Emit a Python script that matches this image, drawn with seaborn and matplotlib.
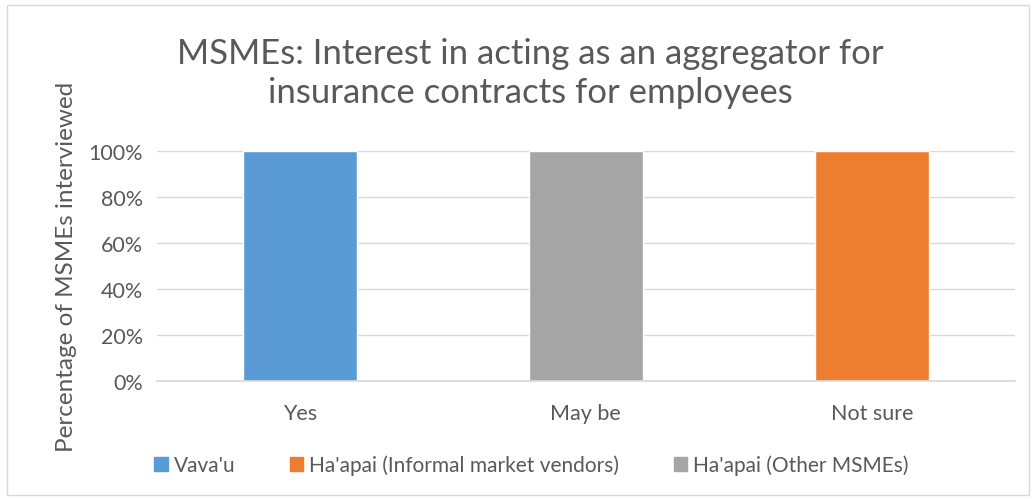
import matplotlib
matplotlib.use('Agg')
import matplotlib.pyplot as plt
import matplotlib.patches as mpatches
from matplotlib.ticker import PercentFormatter
import seaborn as sns
import pandas as pd

# data
categories = ['Yes', 'May be', 'Not sure']
groups = ["Vava'u", "Ha'apai (Other MSMEs)", "Ha'apai (Informal market vendors)"]
values = [1.0, 1.0, 1.0]
legend_order = ["Vava'u", "Ha'apai (Informal market vendors)", "Ha'apai (Other MSMEs)"]
colors = {"Vava'u": '#5B9BD5',
          "Ha'apai (Informal market vendors)": '#ED7D31',
          "Ha'apai (Other MSMEs)": '#A5A5A5'}

df = pd.DataFrame({'category': categories, 'group': groups, 'value': values})

sns.set_theme(style='white')
plt.rcParams['font.family'] = ['Lato', 'DejaVu Sans']

fig = plt.figure(figsize=(10.36, 5.02), dpi=100)
ax = fig.add_axes([0.1515, 0.239, 0.828, 0.458])

sns.barplot(data=df, x='category', y='value', hue='group', order=categories,
            hue_order=legend_order, palette=colors, dodge=False, width=0.4,
            saturation=1, legend=False, ax=ax)

ax.set_ylim(0, 1)
ax.set_xlim(-0.5, 2.5)
ax.set_yticks([0, 0.2, 0.4, 0.6, 0.8, 1.0])
ax.yaxis.set_major_formatter(PercentFormatter(1.0, decimals=0))
ax.grid(axis='y', color='#D9D9D9', linewidth=1)
ax.set_axisbelow(True)
for s in ['top', 'right', 'left']:
    ax.spines[s].set_visible(False)
ax.spines['bottom'].set_color('#D9D9D9')
ax.tick_params(axis='both', length=0, labelsize=15.5, colors='#595959', pad=10)
ax.tick_params(axis='x', pad=16)
ax.set_xlabel('')
ax.set_ylabel('Percentage of MSMEs interviewed', fontsize=17.5, color='#595959')
ax.yaxis.set_label_coords(-0.093, 0.5)

fig.suptitle('MSMEs: Interest in acting as an aggregator for\ninsurance contracts for employees',
             x=0.512, y=0.925, fontsize=25, color='#595959', linespacing=1.3)

handles = [mpatches.Patch(color=colors[g], label=g) for g in legend_order]
fig.legend(handles=handles, loc='center', bbox_to_anchor=(0.513, 0.072), ncol=3,
           frameon=False, fontsize=15, labelcolor='#595959', handlelength=0.65,
           handleheight=0.65, handletextpad=0.3, columnspacing=2.6)

# chart border
fig.patches.append(mpatches.Rectangle((0.007, 0.012), 0.986, 0.976, transform=fig.transFigure,
                                      fill=False, edgecolor='#D9D9D9', linewidth=1))

fig.savefig('out.png', dpi=100)
